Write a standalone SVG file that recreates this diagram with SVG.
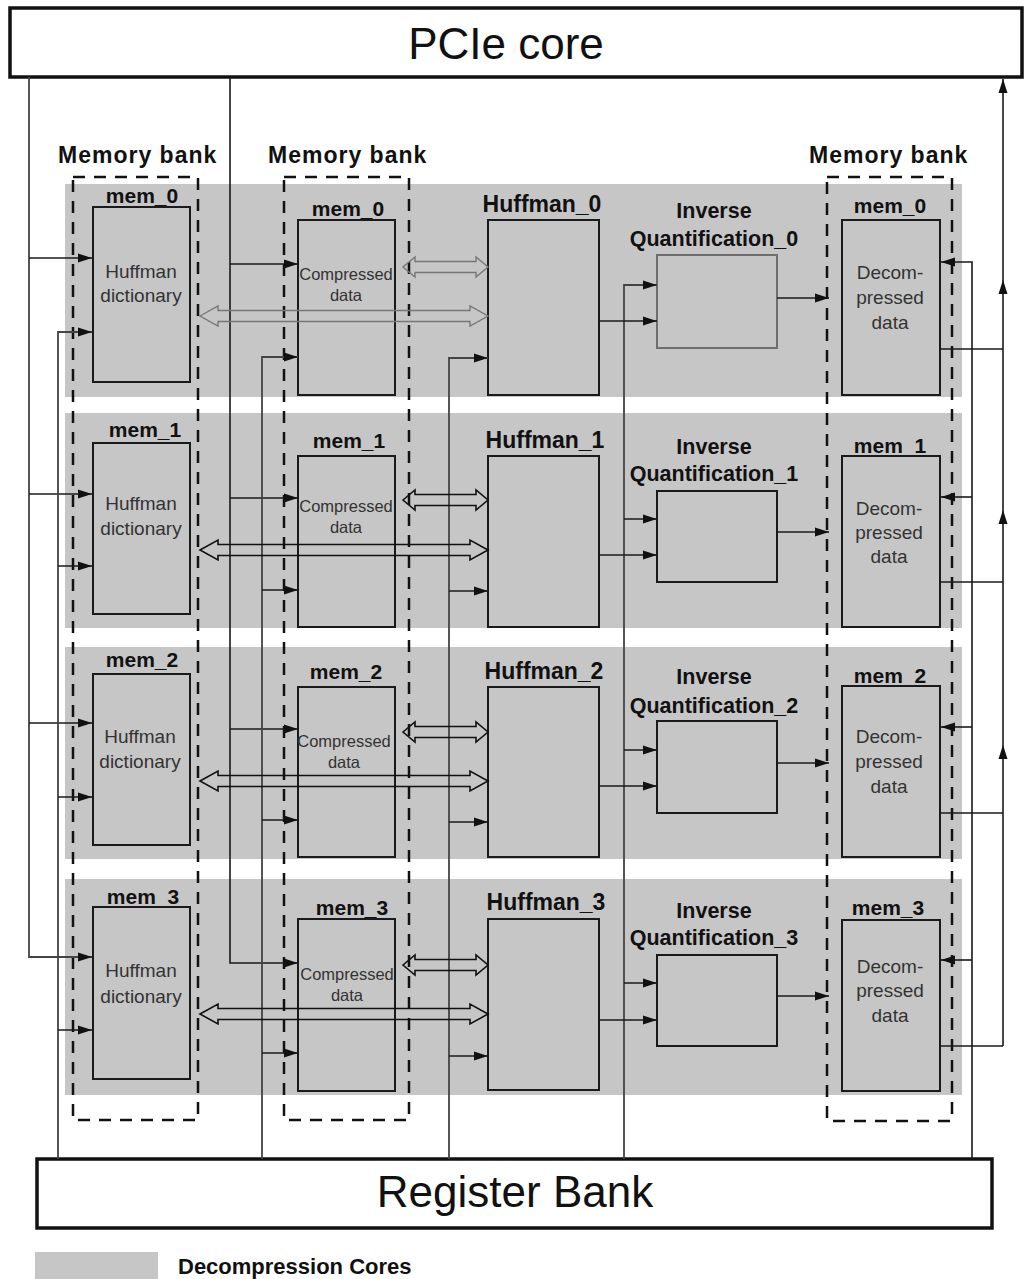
<svg xmlns="http://www.w3.org/2000/svg" width="1026" height="1279" viewBox="0 0 1026 1279">
<style>
  .bg{fill:#ffffff}
  .band{fill:#c6c6c6}
  .bank{fill:none;stroke:#111;stroke-width:2.5;stroke-dasharray:12,9}
  .box{fill:#c6c6c6;stroke:#1a1a1a;stroke-width:2}
  .boxl{fill:#c6c6c6;stroke:#6e6e6e;stroke-width:2}
  .big{fill:#fff;stroke:#111;stroke-width:3.5}
  .ln{fill:none;stroke:#1a1a1a;stroke-width:1.6}
  .lnl{fill:none;stroke:#444;stroke-width:1.8}
  .dbl{fill:none;stroke:#111;stroke-width:1.6}
  .dbll{fill:none;stroke:#777;stroke-width:1.4}
  .t44{font-family:"Liberation Sans",Arial,sans-serif;font-size:44px;fill:#111;text-anchor:middle}
  .bank-t{font-family:"Liberation Sans",Arial,sans-serif;font-size:23px;font-weight:bold;fill:#111;letter-spacing:1px}
  .mem{font-family:"Liberation Sans",Arial,sans-serif;font-size:21px;font-weight:bold;fill:#111;text-anchor:middle}
  .huf{font-family:"Liberation Sans",Arial,sans-serif;font-size:23px;font-weight:bold;fill:#111;text-anchor:middle}
  .iq{font-family:"Liberation Sans",Arial,sans-serif;font-size:21.5px;font-weight:bold;fill:#111;text-anchor:middle}
  .in19{font-family:"Liberation Sans",Arial,sans-serif;font-size:19px;fill:#333;text-anchor:middle}
  .in17{font-family:"Liberation Sans",Arial,sans-serif;font-size:16.5px;fill:#333;text-anchor:middle}
  .leg{font-family:"Liberation Sans",Arial,sans-serif;font-size:22px;font-weight:bold;fill:#111}
</style>
<defs>
  <marker id="ah" markerUnits="userSpaceOnUse" markerWidth="15" markerHeight="10" refX="14" refY="5" orient="auto">
    <path d="M0,0.5 L14,5 L0,9.5 Z" fill="#111"/>
  </marker>
  <path id="dsmall" d="M0,0 L12,-10 L12,-5.5 L73,-5.5 L73,-10 L85,0 L73,10 L73,5.5 L12,5.5 L12,10 Z"/>
  <path id="dlong" d="M0,0 L18,-10 L18,-5.5 L270,-5.5 L270,-10 L288,0 L270,10 L270,5.5 L18,5.5 L18,10 Z"/>
</defs>
<rect class="bg" x="0" y="0" width="1026" height="1279"/>

<!-- Decompression core bands -->
<g id="bands">
  <rect class="band" x="65" y="184" width="897" height="213"/>
  <rect class="band" x="65" y="413" width="897" height="215"/>
  <rect class="band" x="65" y="647" width="897" height="212"/>
  <rect class="band" x="65" y="879" width="897" height="216"/>
</g>

<!-- Memory banks -->
<g id="bank-dict">
  <text class="bank-t" x="58" y="163">Memory bank</text>
  <rect class="bank" x="73" y="177" width="125" height="943"/>
</g>
<g id="bank-comp">
  <text class="bank-t" x="268" y="163">Memory bank</text>
  <rect class="bank" x="284" y="177" width="125" height="943"/>
</g>
<g id="bank-decomp">
  <text class="bank-t" x="809" y="163">Memory bank</text>
  <rect class="bank" x="827" y="177" width="125" height="944"/>
</g>

<!-- PCIe core and Register Bank -->
<g id="pcie">
  <rect class="big" x="10" y="8" width="1012" height="69"/>
  <text class="t44" x="506" y="59">PCIe core</text>
</g>
<g id="regbank">
  <rect class="big" x="37" y="1159" width="955" height="69"/>
  <text class="t44" x="515" y="1207">Register Bank</text>
</g>

<!-- Row 0 -->
<g id="dict0">
  <text class="mem" x="142" y="203">mem_0</text>
  <rect class="box" x="93" y="207" width="97" height="175"/>
  <text class="in19" x="141" y="278">Huffman</text>
  <text class="in19" x="141" y="302">dictionary</text>
</g>
<g id="comp0">
  <text class="mem" x="348" y="216">mem_0</text>
  <rect class="box" x="298" y="220" width="97" height="175"/>
  <text class="in17" x="346" y="280">Compressed</text>
  <text class="in17" x="346" y="301">data</text>
</g>
<g id="huff0">
  <text class="huf" x="542" y="212">Huffman_0</text>
  <rect class="box" x="488" y="220" width="111" height="175"/>
</g>
<g id="iq0">
  <text class="iq" x="714" y="218">Inverse</text>
  <text class="iq" x="714" y="246">Quantification_0</text>
  <rect class="boxl" x="657" y="255" width="120" height="93"/>
</g>
<g id="decomp0">
  <text class="mem" x="890" y="213">mem_0</text>
  <rect class="box" x="842" y="220" width="98" height="175"/>
  <text class="in19" x="890" y="279">Decom-</text>
  <text class="in19" x="890" y="304">pressed</text>
  <text class="in19" x="890" y="329">data</text>
</g>

<!-- Row 1 -->
<g id="dict1">
  <text class="mem" x="145" y="437">mem_1</text>
  <rect class="box" x="93" y="443" width="97" height="171"/>
  <text class="in19" x="141" y="510">Huffman</text>
  <text class="in19" x="141" y="535">dictionary</text>
</g>
<g id="comp1">
  <text class="mem" x="349" y="448">mem_1</text>
  <rect class="box" x="298" y="456" width="97" height="171"/>
  <text class="in17" x="346" y="512">Compressed</text>
  <text class="in17" x="346" y="533">data</text>
</g>
<g id="huff1">
  <text class="huf" x="545" y="448">Huffman_1</text>
  <rect class="box" x="488" y="456" width="111" height="171"/>
</g>
<g id="iq1">
  <text class="iq" x="714" y="454">Inverse</text>
  <text class="iq" x="714" y="481">Quantification_1</text>
  <rect class="box" x="657" y="491" width="120" height="91"/>
</g>
<g id="decomp1">
  <text class="mem" x="890" y="453">mem_1</text>
  <rect class="box" x="842" y="456" width="98" height="171"/>
  <text class="in19" x="889" y="515">Decom-</text>
  <text class="in19" x="889" y="539">pressed</text>
  <text class="in19" x="889" y="563">data</text>
</g>

<!-- Row 2 -->
<g id="dict2">
  <text class="mem" x="142" y="667">mem_2</text>
  <rect class="box" x="93" y="674" width="97" height="171"/>
  <text class="in19" x="140" y="743">Huffman</text>
  <text class="in19" x="140" y="768">dictionary</text>
</g>
<g id="comp2">
  <text class="mem" x="346" y="679">mem_2</text>
  <rect class="box" x="298" y="687" width="97" height="170"/>
  <text class="in17" x="344" y="747">Compressed</text>
  <text class="in17" x="344" y="768">data</text>
</g>
<g id="huff2">
  <text class="huf" x="544" y="679">Huffman_2</text>
  <rect class="box" x="488" y="687" width="111" height="170"/>
</g>
<g id="iq2">
  <text class="iq" x="714" y="684">Inverse</text>
  <text class="iq" x="714" y="713">Quantification_2</text>
  <rect class="box" x="657" y="721" width="120" height="92"/>
</g>
<g id="decomp2">
  <text class="mem" x="890" y="683">mem_2</text>
  <rect class="box" x="842" y="686" width="98" height="171"/>
  <text class="in19" x="889" y="743">Decom-</text>
  <text class="in19" x="889" y="768">pressed</text>
  <text class="in19" x="889" y="793">data</text>
</g>

<!-- Row 3 -->
<g id="dict3">
  <text class="mem" x="143" y="904">mem_3</text>
  <rect class="box" x="93" y="907" width="97" height="172"/>
  <text class="in19" x="141" y="977">Huffman</text>
  <text class="in19" x="141" y="1003">dictionary</text>
</g>
<g id="comp3">
  <text class="mem" x="352" y="915">mem_3</text>
  <rect class="box" x="298" y="919" width="97" height="172"/>
  <text class="in17" x="347" y="980">Compressed</text>
  <text class="in17" x="347" y="1001">data</text>
</g>
<g id="huff3">
  <text class="huf" x="546" y="910">Huffman_3</text>
  <rect class="box" x="488" y="919" width="111" height="171"/>
</g>
<g id="iq3">
  <text class="iq" x="714" y="918">Inverse</text>
  <text class="iq" x="714" y="945">Quantification_3</text>
  <rect class="box" x="657" y="955" width="120" height="91"/>
</g>
<g id="decomp3">
  <text class="mem" x="888" y="915">mem_3</text>
  <rect class="box" x="842" y="920" width="98" height="171"/>
  <text class="in19" x="890" y="973">Decom-</text>
  <text class="in19" x="890" y="997">pressed</text>
  <text class="in19" x="890" y="1022">data</text>
</g>

<!-- Connectors -->
<g id="connectors">
  <!-- PCIe to dictionaries -->
  <path class="lnl" d="M29,77 V957 H92" marker-end="url(#ah)"/>
  <path class="ln" d="M29,258 H92" marker-end="url(#ah)"/>
  <path class="ln" d="M29,494 H92" marker-end="url(#ah)"/>
  <path class="ln" d="M29,723 H92" marker-end="url(#ah)"/>
  <!-- PCIe to compressed data -->
  <path class="ln" d="M230,77 V963 H298" marker-end="url(#ah)"/>
  <path class="ln" d="M230,264 H298" marker-end="url(#ah)"/>
  <path class="ln" d="M230,498 H298" marker-end="url(#ah)"/>
  <path class="ln" d="M230,729 H298" marker-end="url(#ah)"/>
  <!-- Register bank to dictionaries -->
  <path class="lnl" d="M58,1159 V332 H92" marker-end="url(#ah)"/>
  <path class="ln" d="M58,566 H92" marker-end="url(#ah)"/>
  <path class="ln" d="M58,797 H92" marker-end="url(#ah)"/>
  <path class="ln" d="M58,1030 H92" marker-end="url(#ah)"/>
  <!-- Register bank to compressed data -->
  <path class="lnl" d="M262,1159 V357 H298" marker-end="url(#ah)"/>
  <path class="ln" d="M262,590 H298" marker-end="url(#ah)"/>
  <path class="ln" d="M262,820 H298" marker-end="url(#ah)"/>
  <path class="ln" d="M262,1053 H298" marker-end="url(#ah)"/>
  <!-- Register bank to Huffman -->
  <path class="lnl" d="M449,1159 V358 H488" marker-end="url(#ah)"/>
  <path class="ln" d="M449,591 H488" marker-end="url(#ah)"/>
  <path class="ln" d="M449,822 H488" marker-end="url(#ah)"/>
  <path class="ln" d="M449,1056 H488" marker-end="url(#ah)"/>
  <!-- Register bank to IQ -->
  <path class="lnl" d="M624,1159 V285 H657" marker-end="url(#ah)"/>
  <path class="ln" d="M624,519 H657" marker-end="url(#ah)"/>
  <path class="ln" d="M624,750 H657" marker-end="url(#ah)"/>
  <path class="ln" d="M624,983 H657" marker-end="url(#ah)"/>
  <!-- Register bank to decompressed data -->
  <path class="ln" d="M972,1159 V262 H941" marker-end="url(#ah)"/>
  <path class="ln" d="M972,497 H941" marker-end="url(#ah)"/>
  <path class="ln" d="M972,727 H941" marker-end="url(#ah)"/>
  <path class="ln" d="M972,960 H941" marker-end="url(#ah)"/>
  <!-- Huffman to IQ -->
  <path class="ln" d="M599,321 H657" marker-end="url(#ah)"/>
  <path class="ln" d="M599,555 H657" marker-end="url(#ah)"/>
  <path class="ln" d="M599,786 H657" marker-end="url(#ah)"/>
  <path class="ln" d="M599,1020 H657" marker-end="url(#ah)"/>
  <!-- IQ to decompressed bank -->
  <path class="ln" d="M777,298 H829" marker-end="url(#ah)"/>
  <path class="ln" d="M777,532 H829" marker-end="url(#ah)"/>
  <path class="ln" d="M777,763 H829" marker-end="url(#ah)"/>
  <path class="ln" d="M777,996 H829" marker-end="url(#ah)"/>
  <!-- Decompressed data back to PCIe -->
  <path class="ln" d="M940,349 H1003"/>
  <path class="ln" d="M940,582 H1003"/>
  <path class="ln" d="M940,813 H1003"/>
  <path class="ln" d="M940,1046 H1003"/>
  <path class="ln" d="M1003,1046 V745" marker-end="url(#ah)"/>
  <path class="ln" d="M1003,745 V510" marker-end="url(#ah)"/>
  <path class="ln" d="M1003,510 V280" marker-end="url(#ah)"/>
  <path class="ln" d="M1003,280 V79" marker-end="url(#ah)"/>
  <!-- Bidirectional data buses -->
  <use href="#dsmall" class="dbll" x="403" y="267"/>
  <use href="#dlong" class="dbll" x="200" y="316"/>
  <use href="#dsmall" class="dbl" x="403" y="500"/>
  <use href="#dlong" class="dbl" x="200" y="550"/>
  <use href="#dsmall" class="dbl" x="403" y="732"/>
  <use href="#dlong" class="dbl" x="200" y="781"/>
  <use href="#dsmall" class="dbl" x="403" y="965"/>
  <use href="#dlong" class="dbl" x="200" y="1014"/>
</g>

<!-- Legend -->
<g id="legend">
  <rect class="band" x="35" y="1252" width="123" height="27"/>
  <text class="leg" x="178" y="1274">Decompression Cores</text>
</g>
</svg>
